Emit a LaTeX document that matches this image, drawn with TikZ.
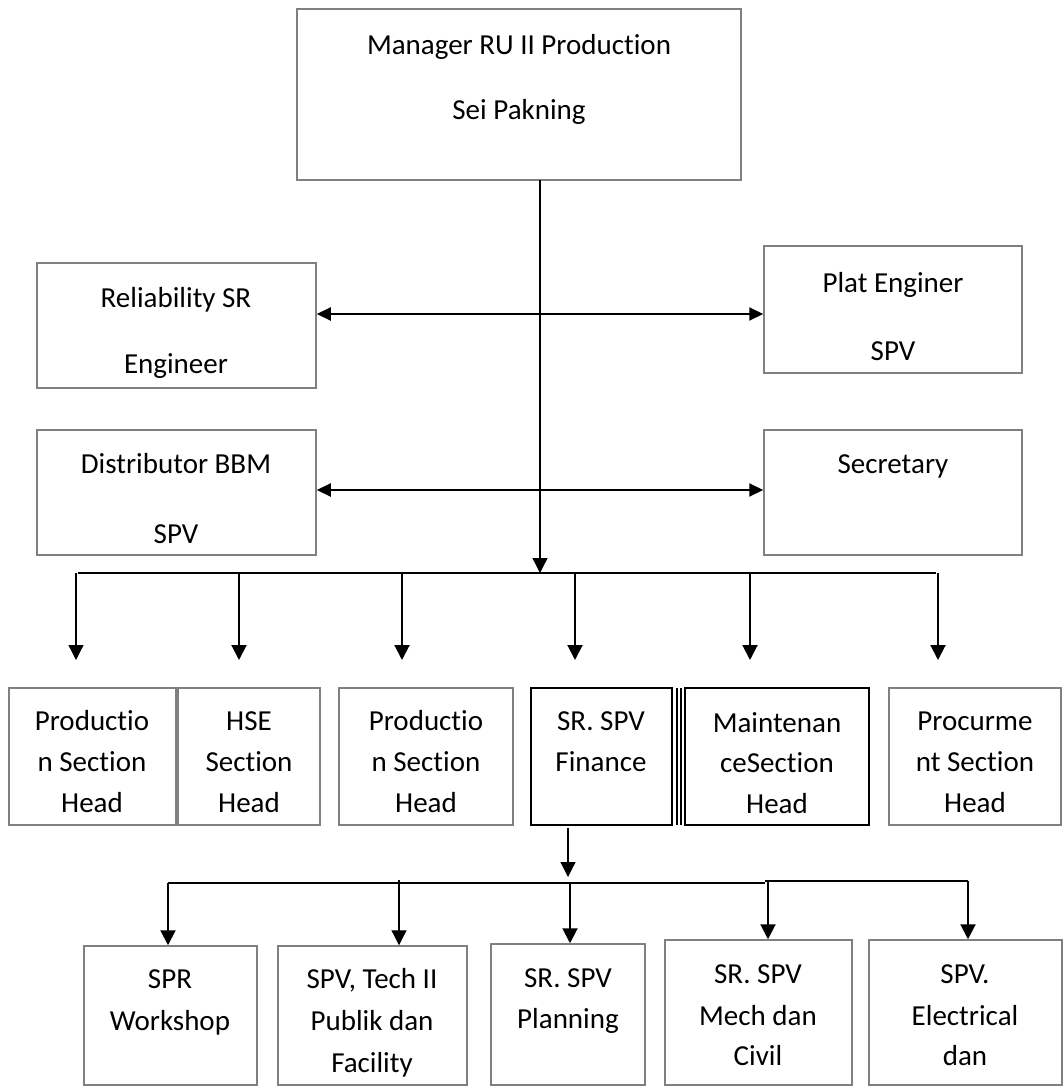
\documentclass[tikz,border=0pt]{standalone}
\usepackage{fontspec}
\setmainfont{Carlito}[Ligatures=NoCommon]
\usetikzlibrary{arrows.meta}
\begin{document}
\begin{tikzpicture}[x=1pt,y=-1pt,
  box/.style={draw=black!50, line width=1.5pt, inner sep=0pt},
  dbox/.style={draw=black, line width=1.5pt, inner sep=0pt},
  txt/.style={font=\fontsize{29}{34}\selectfont, inner sep=0pt, anchor=base},
  arr/.style={line width=2pt, -{Triangle[length=15pt,width=15pt]}},
  tarr/.style={line width=1.2pt, -{Triangle[length=15pt,width=15pt]}},
  darr/.style={line width=2pt, {Triangle[length=14pt,width=13pt]}-{Triangle[length=14pt,width=13pt]}},
  bar/.style={line width=2pt}]
\useasboundingbox (0,0) rectangle (1064,1086);
% boxes
\node[box, minimum width=444pt, minimum height=171pt] (mgr) at (519,94.5) {};
\node[box, minimum width=279pt, minimum height=125pt] (rel) at (176.5,325.5) {};
\node[box, minimum width=258pt, minimum height=127pt] (plat) at (893,309.5) {};
\node[box, minimum width=279pt, minimum height=125pt] (dist) at (176.5,492.5) {};
\node[box, minimum width=258pt, minimum height=125pt] (sec) at (893,492.5) {};
\node[box, minimum width=167pt, minimum height=137pt] (prod1) at (92.5,756.5) {};
\node[box, minimum width=142pt, minimum height=137pt] (hse) at (249,756.5) {};
\node[box, minimum width=174pt, minimum height=137pt] (prod2) at (426,756.5) {};
\node[dbox, minimum width=141pt, minimum height=137pt] (fin) at (601.5,756.5) {};
\node[dbox, minimum width=184pt, minimum height=137pt] (mnt) at (777,756.5) {};
\node[box, minimum width=172pt, minimum height=137pt] (proc) at (975,756.5) {};
\node[box, minimum width=173pt, minimum height=139pt] (spr) at (170.5,1015.5) {};
\node[box, minimum width=189pt, minimum height=139pt] (tech) at (372.5,1015.5) {};
\node[box, minimum width=154pt, minimum height=141pt] (plan) at (568,1014.5) {};
\node[box, minimum width=187pt, minimum height=145pt] (mech) at (758.5,1012.5) {};
\node[box, minimum width=193pt, minimum height=145pt] (elec) at (965.5,1012.5) {};
% extra lines between finance and maintenance
\draw[line width=1.5pt] (677,688) -- (677,825) (681,688) -- (681,825);
% texts
\node[txt] (mgr1) at (519,55) {Manager RU II Production};
\node[txt] (mgr2) at (519,120) {Sei Pakning};
\node[txt] (rel1) at (176,307) {Reliability SR};
\node[txt] (rel2) at (176,373) {Engineer};
\node[txt] (plat1) at (893,292) {Plat Enginer};
\node[txt] (plat2) at (893,360) {SPV};
\node[txt] (dist1) at (176,473) {Distributor BBM};
\node[txt] (dist2) at (176,543) {SPV};
\node[txt] (sec1) at (893,473) {Secretary};
\node[txt] (p1a) at (92,730) {Productio};
\node[txt] (p1b) at (92,771) {n Section};
\node[txt] (p1c) at (92,812) {Head};
\node[txt] (h1a) at (249,730) {HSE};
\node[txt] (h1b) at (249,771) {Section};
\node[txt] (h1c) at (249,812) {Head};
\node[txt] (p2a) at (426,730) {Productio};
\node[txt] (p2b) at (426,771) {n Section};
\node[txt] (p2c) at (426,812) {Head};
\node[txt] (f1a) at (601,730) {SR. SPV};
\node[txt] (f1b) at (601,771) {Finance};
\node[txt] (m1a) at (777,732) {Maintenan};
\node[txt] (m1b) at (777,772) {ceSection};
\node[txt] (m1c) at (777,813) {Head};
\node[txt] (pr1a) at (975,730) {Procurme};
\node[txt] (pr1b) at (975,771) {nt Section};
\node[txt] (pr1c) at (975,812) {Head};
\node[txt] (s1a) at (170,988) {SPR};
\node[txt] (s1b) at (170,1030) {Workshop};
\node[txt] (t1a) at (372,988) {SPV, Tech II};
\node[txt] (t1b) at (372,1030) {Publik dan};
\node[txt] (t1c) at (372,1072) {Facility};
\node[txt] (pl1a) at (568,987) {SR. SPV};
\node[txt] (pl1b) at (568,1028) {Planning};
\node[txt] (me1a) at (758,983) {SR. SPV};
\node[txt] (me1b) at (758,1025) {Mech dan};
\node[txt] (me1c) at (758,1065) {Civil};
\node[txt] (e1a) at (965,983) {SPV.};
\node[txt] (e1b) at (965,1025) {Electrical};
\node[txt] (e1c) at (965,1065) {dan};
% coordinates
\coordinate (m0) at (540,180);
\coordinate (b1) at (540,573);
\coordinate (r1) at (540,314);
\coordinate (r2) at (540,490);
\coordinate (bl) at (78,573);
\coordinate (br) at (936,573);
\coordinate (d1) at (76,660);
\coordinate (d2) at (239,660);
\coordinate (d3) at (402,660);
\coordinate (d4) at (575,660);
\coordinate (d5) at (750,660);
\coordinate (d6) at (938,660);
% main connectors
\draw[line width=1.3pt, -{Triangle[length=15pt,width=15pt]}] (m0) -- (b1);
\draw[darr] (rel.east |- r1) -- (plat.west |- r1);
\draw[darr] (dist.east |- r2) -- (sec.west |- r2);
\draw[bar] (bl) -- (br);
\draw[tarr] (d1 |- bl) -- (d1);
\draw[arr] (d2 |- bl) -- (d2);
\draw[arr] (d3 |- bl) -- (d3);
\draw[arr] (d4 |- bl) -- (d4);
\draw[arr] (d5 |- bl) -- (d5);
\draw[arr] (d6 |- bl) -- (d6);
% lower tier
\coordinate (f0) at (568,828);
\coordinate (f1) at (568,877);
\coordinate (c1) at (168,883);
\coordinate (c2) at (765,883);
\coordinate (c3) at (765,881);
\coordinate (c4) at (968,881);
\draw[tarr] (f0) -- (f1);
\draw[bar] (c1) -- (c2);
\draw[bar] (c3) -- (c4);
\draw[arr] (c1) -- (spr.north -| c1);
\draw[tarr] (399,880) -- (tech.north -| 399,0);
\draw[arr] (570,883) -- (plan.north -| 570,0);
\draw[arr] (768,880) -- (mech.north -| 768,0);
\draw[arr] (c4) -- (elec.north -| c4);
\end{tikzpicture}
\end{document}
